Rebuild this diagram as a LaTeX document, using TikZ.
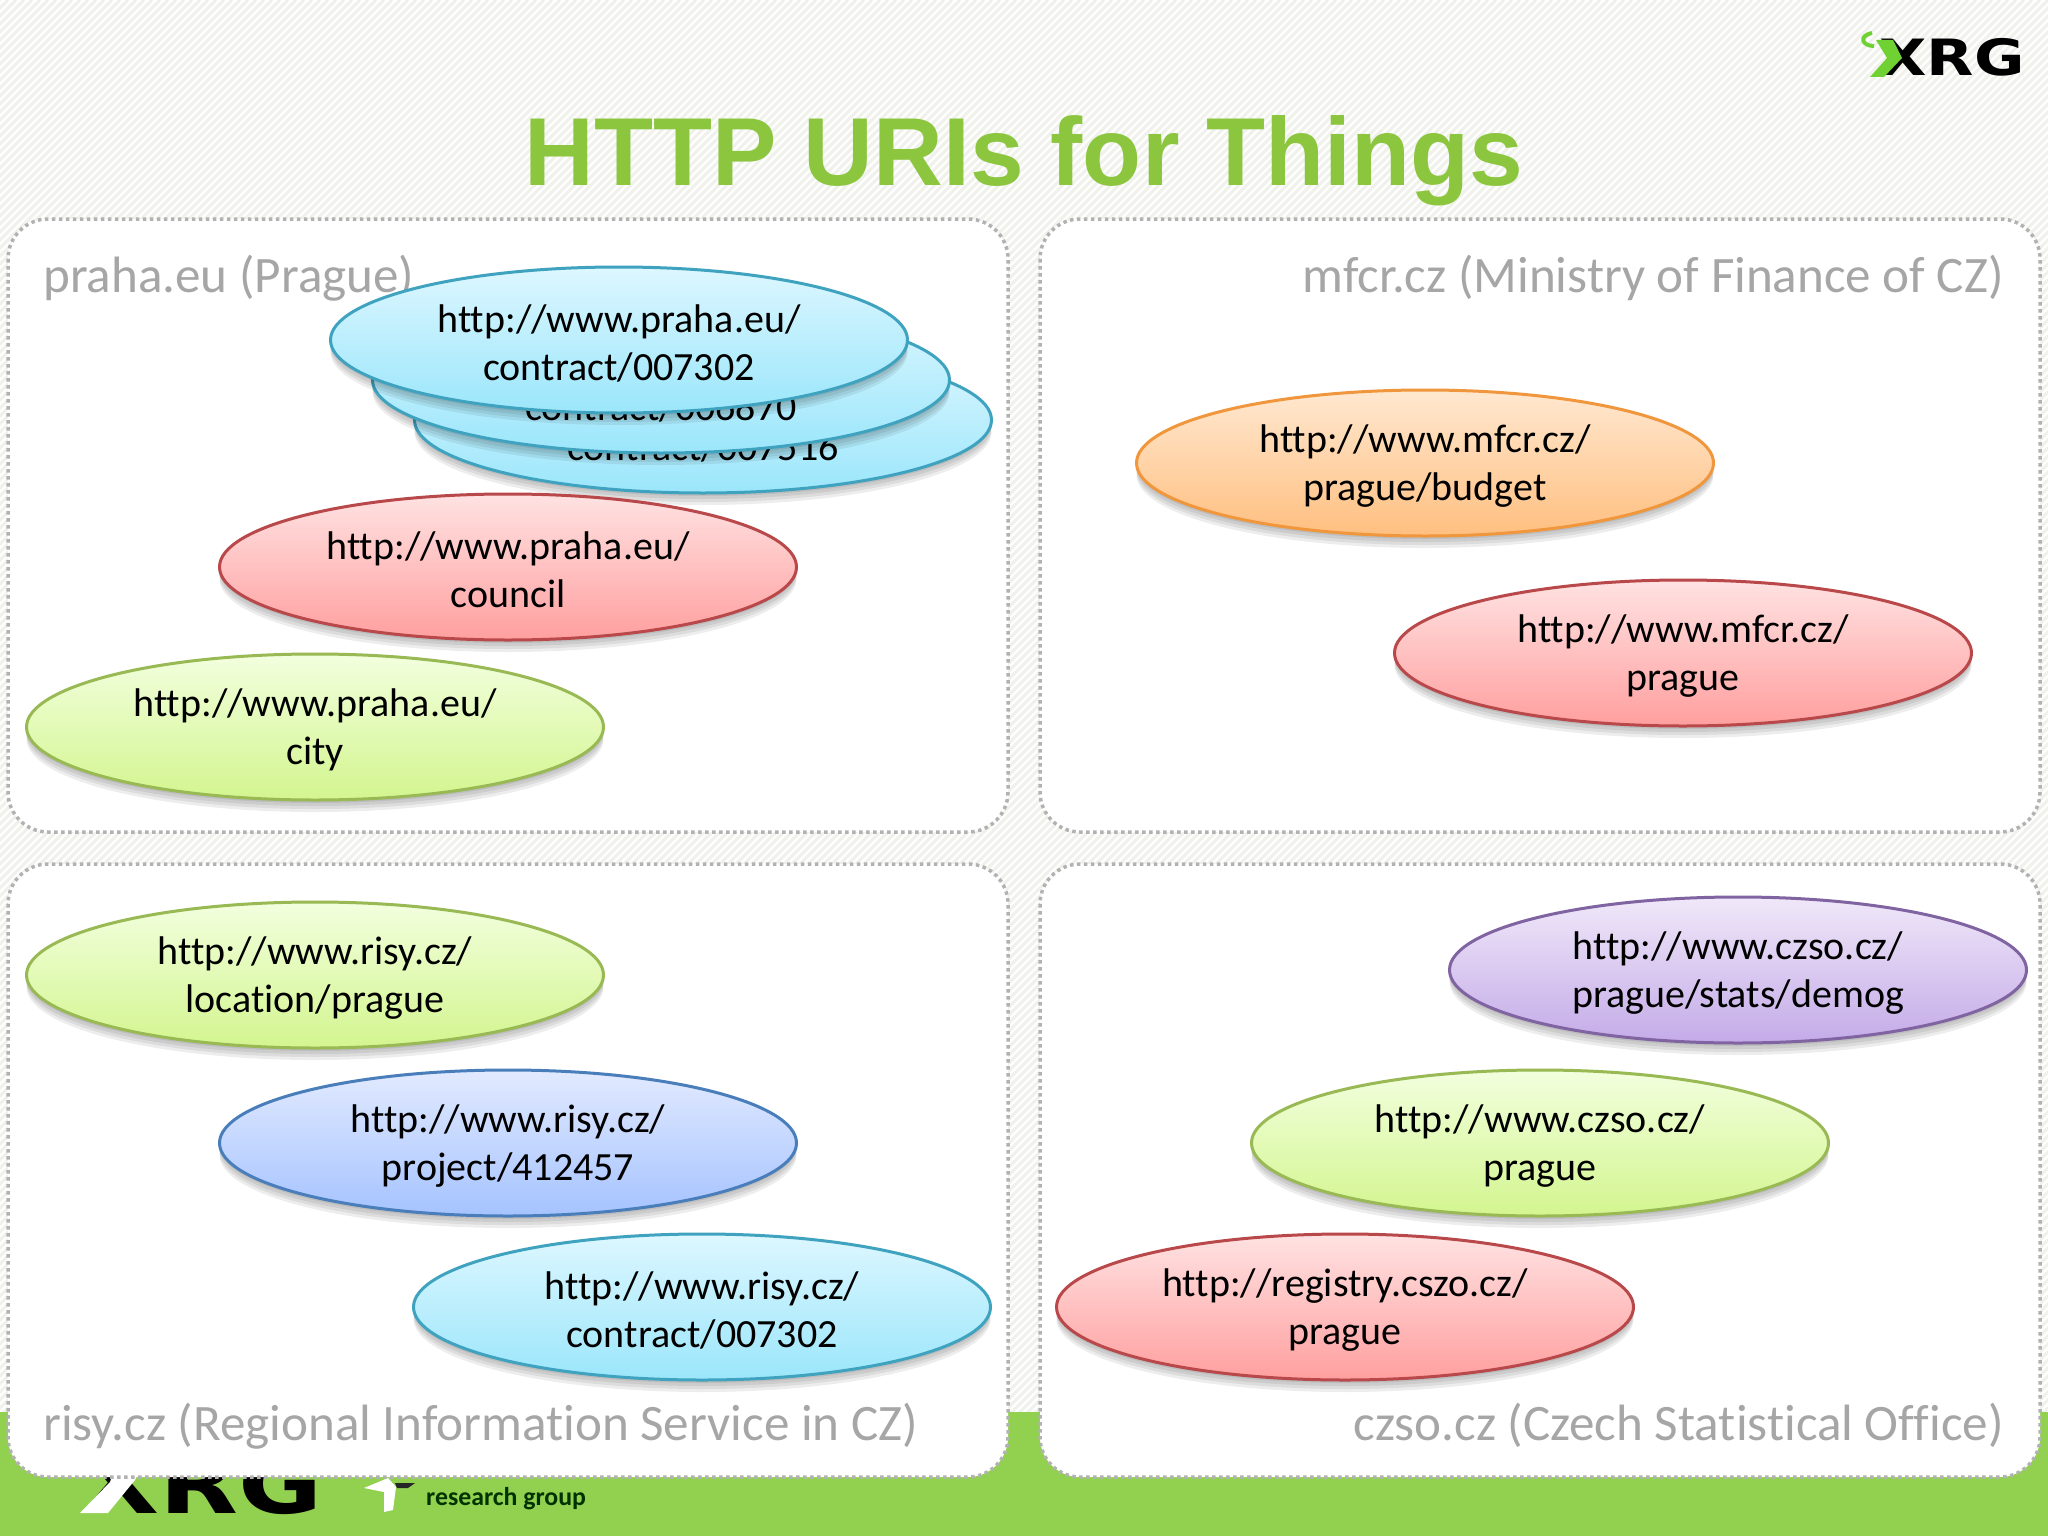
\documentclass[tikz,border=0pt]{standalone}
\usepackage{fontspec}
\setmainfont[Ligatures=NoCommon]{Carlito}
\newfontfamily\titlefont{Liberation Sans}
\newfontfamily\logofont{DejaVu Sans}
\usetikzlibrary{shapes.geometric,shadows}

\definecolor{barGreen}{HTML}{92D050}
\definecolor{titleGreen}{HTML}{8CC63F}
\definecolor{hatchGray}{HTML}{F0F1EB}
\definecolor{cyanD}{HTML}{3FA3BF}\definecolor{cyanT}{HTML}{DDF7FF}\definecolor{cyanB}{HTML}{9BE6FB}
\definecolor{redD}{HTML}{B8484A}\definecolor{redT}{HTML}{FFE2E2}\definecolor{redB}{HTML}{FF9F9F}
\definecolor{greenD}{HTML}{98B954}\definecolor{greenT}{HTML}{F2FFDE}\definecolor{greenB}{HTML}{D3F58F}
\definecolor{orangeD}{HTML}{F0963C}\definecolor{orangeT}{HTML}{FFE8D0}\definecolor{orangeB}{HTML}{FFBF80}
\definecolor{blueD}{HTML}{4A7EBB}\definecolor{blueT}{HTML}{E2EAFF}\definecolor{blueB}{HTML}{A5C3FF}
\definecolor{purpleD}{HTML}{8064A2}\definecolor{purpleT}{HTML}{F0E8F9}\definecolor{purpleB}{HTML}{C4ABE8}

\tikzset{
  panel/.style={fill=white,draw=black!30,line width=3.5pt,dash pattern=on 3.5pt off 3.5pt,rounded corners=40pt},
  sitelabel/.style={text=black!35,font=\fontsize{51.1}{60}\selectfont,inner sep=0pt},
  softshadow/.style={general shadow={shadow xshift=0pt,shadow yshift=-#1,fill=black,opacity=.07}},
  uri/.style={ellipse,minimum width=577pt,minimum height=146pt,inner sep=0pt,align=center,
    text height=82pt,line width=3pt,font=\fontsize{40}{48}\selectfont,
    softshadow=3pt,softshadow=6pt,softshadow=9pt,softshadow=12pt},
  cyanuri/.style={uri,draw=cyanD,top color=cyanT,bottom color=cyanB},
  reduri/.style={uri,draw=redD,top color=redT,bottom color=redB},
  greenuri/.style={uri,draw=greenD,top color=greenT,bottom color=greenB},
  orangeuri/.style={uri,draw=orangeD,top color=orangeT,bottom color=orangeB},
  blueuri/.style={uri,draw=blueD,top color=blueT,bottom color=blueB},
  purpleuri/.style={uri,draw=purpleD,top color=purpleT,bottom color=purpleB},
}

\begin{document}
\begin{tikzpicture}[x=1pt,y=-1pt]
  \useasboundingbox (0,0) rectangle (2048,1536);
  % background
  \fill[white] (0,0) rectangle (2048,1536);
  \begin{scope}
    \clip (0,0) rectangle (2048,1536);
    \foreach \hx in {0,8,...,3584}
      \draw[hatchGray,line width=3pt] (\hx,0) -- (\hx-1536,1536);
  \end{scope}
  \fill[barGreen] (0,1412) rectangle (2048,1536);

  % logo, top
  \node[anchor=base west,inner sep=0pt,font=\logofont\bfseries\fontsize{50}{50}\selectfont,xscale=1.23] (logotop) at (1879,76) {XRG};
  \fill[titleGreen!80!green] (1876,40) -- (1893,40) -- (1902,58) -- (1884,77) -- (1870,77) -- (1887,58) -- cycle;
  \draw[titleGreen!80!green,line width=4pt] (1872,33) .. controls (1858,36) and (1862,46) .. (1874,46);

  % logo, bottom
  \node[anchor=base west,inner sep=0pt,font=\logofont\bfseries\fontsize{82}{82}\selectfont,xscale=1.25] (logobottom) at (80,1513) {XRG};
  \fill[white] (120,1454) -- (148,1454) -- (135,1480) -- (108,1513) -- (80,1513) -- (110,1482) -- cycle;
  \fill[white] (364,1488) -- (388,1478) -- (396,1487) -- (393,1510) -- (384,1512) -- (384,1492) -- cycle;
  \fill[black!85] (395,1483) -- (415,1483) -- (408,1488) -- (397,1488) -- cycle;
  \node[anchor=base west,inner sep=0pt,text=black!80!green,font=\bfseries\fontsize{25.8}{30}\selectfont] (resgroup) at (426,1505) {research group};

  % title
  \node[anchor=base,inner sep=0pt,text=titleGreen,font=\titlefont\bfseries\fontsize{96.6}{110}\selectfont] (title) at (1024,185) {HTTP URIs for Things};

  % panels
  \draw[panel] (8,219) rectangle (1008,832);
  \draw[panel] (1040,219) rectangle (2040,832);
  \draw[panel] (8,864) rectangle (1008,1477);
  \draw[panel] (1040,864) rectangle (2040,1477);

  \node[sitelabel,anchor=base west] (praha) at (43,292) {praha.eu (Prague)};
  \node[sitelabel,anchor=base east] (mfcr) at (2004,292) {mfcr.cz (Ministry of Finance of CZ)};
  \node[sitelabel,anchor=base west] (risy) at (43,1440) {risy.cz (Regional Information Service in CZ)};
  \node[sitelabel,anchor=base east] (czso) at (2004,1440) {czso.cz (Czech Statistical Office)};

  % praha.eu
  \node[cyanuri] (contractc) at (703,420) {http://www.praha.eu/\\contract/007516};
  \node[cyanuri] (contractb) at (661,380) {http://www.praha.eu/\\contract/006870};
  \node[cyanuri] (contracta) at (619,340) {http://www.praha.eu/\\contract/007302};
  \node[reduri] (council) at (508,567) {http://www.praha.eu/\\council};
  \node[greenuri] (city) at (315,727) {http://www.praha.eu/\\city};

  % mfcr.cz
  \node[orangeuri] (budget) at (1425,463) {http://www.mfcr.cz/\\prague/budget};
  \node[reduri] (mfcrprague) at (1683,653) {http://www.mfcr.cz/\\prague};

  % risy.cz
  \node[greenuri] (location) at (315,975) {http://www.risy.cz/\\location/prague};
  \node[blueuri] (project) at (508,1143) {http://www.risy.cz/\\project/412457};
  \node[cyanuri] (risycontract) at (702,1307) {http://www.risy.cz/\\contract/007302};

  % czso.cz
  \node[purpleuri] (demog) at (1738,970) {http://www.czso.cz/\\prague/stats/demog};
  \node[greenuri] (czsoprague) at (1540,1143) {http://www.czso.cz/\\prague};
  \node[reduri] (registry) at (1345,1307) {http://registry.cszo.cz/\\prague};
\end{tikzpicture}
\end{document}
